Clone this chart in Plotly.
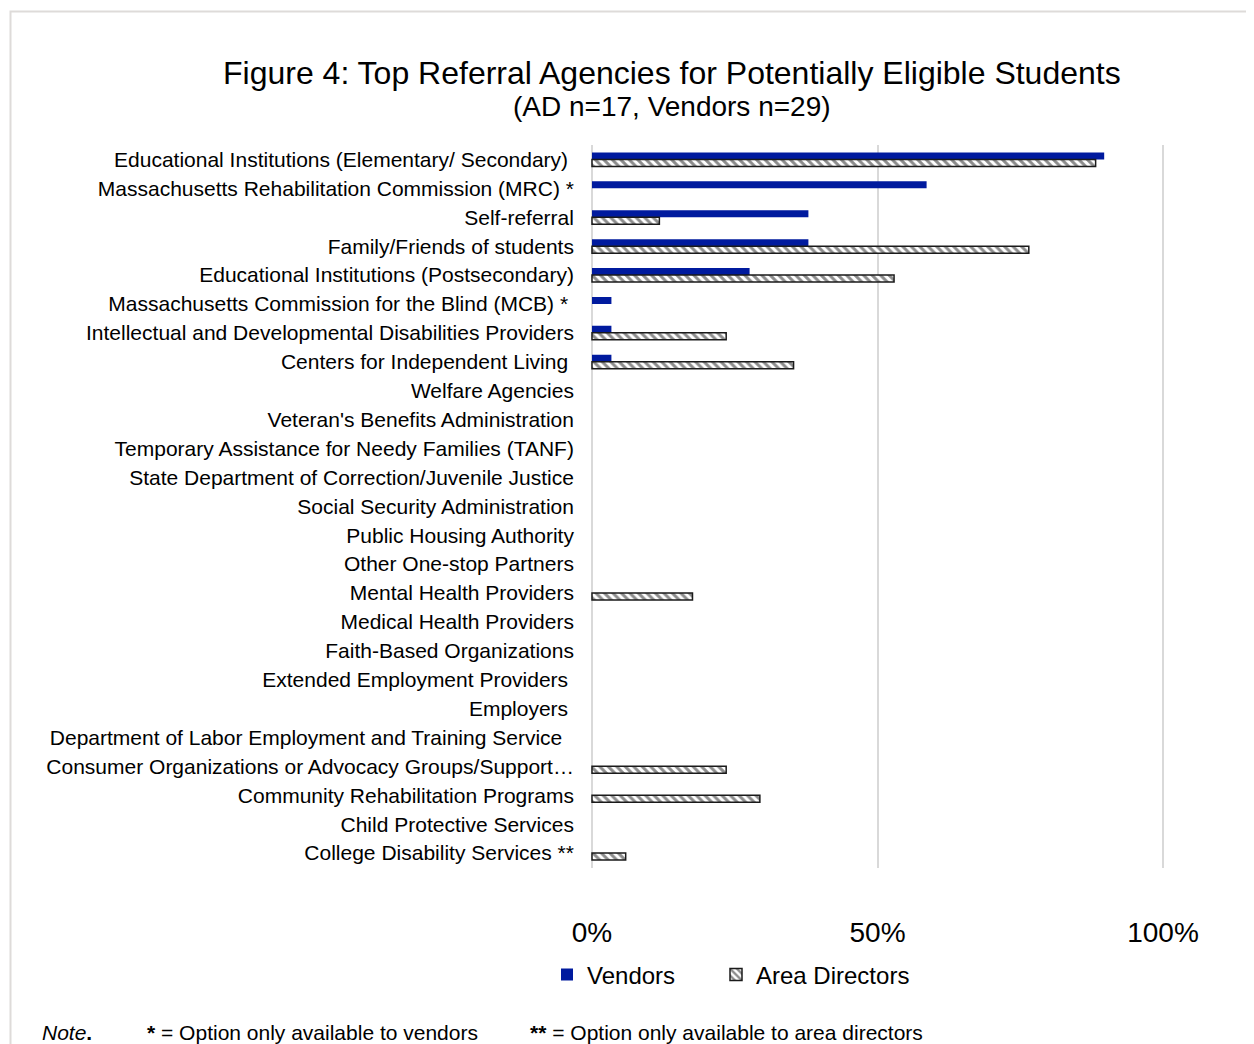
import plotly.graph_objects as go

W, H = 1254, 1044
PAGE_OFFSET = 8  # the page places the figure 8px in from the top-left corner

categories = [
    "Educational Institutions (Elementary/ Secondary)\u00a0",
    "Massachusetts Rehabilitation Commission (MRC) *",
    "Self-referral",
    "Family/Friends of students",
    "Educational Institutions (Postsecondary)",
    "Massachusetts Commission for the Blind (MCB) *\u00a0",
    "Intellectual and Developmental Disabilities Providers",
    "Centers for Independent Living\u00a0",
    "Welfare Agencies",
    "Veteran's Benefits Administration",
    "Temporary Assistance for Needy Families (TANF)",
    "State Department of Correction/Juvenile Justice",
    "Social Security Administration",
    "Public Housing Authority",
    "Other One-stop Partners",
    "Mental Health Providers",
    "Medical Health Providers",
    "Faith-Based Organizations",
    "Extended Employment Providers\u00a0",
    "Employers\u00a0",
    "Department of Labor Employment and Training Service\u00a0\u00a0",
    "Consumer Organizations or Advocacy Groups/Support\u2026",
    "Community Rehabilitation Programs",
    "Child Protective Services",
    "College Disability Services **",
]

vendors = [0.897, 0.586, 0.379, 0.379, 0.276, 0.034, 0.034, 0.034,
           0, 0, 0, 0, 0, 0, 0, 0, 0, 0, 0, 0, 0, 0, 0, 0, None]
area_directors = [0.882, None, 0.118, 0.765, 0.529, None, 0.235, 0.353,
                  0, 0, 0, 0, 0, 0, 0, 0.176, 0, 0, 0, 0, 0, 0.235, 0.294, 0, 0.059]

tick_vals = [0, 0.5, 1.0]
tick_text = ["0%", "50%", "100%"]

FONT = "Liberation Sans, Arial, sans-serif"
INK = "#1a1a1a"

# no outline on empty (zero / missing) bars
ad_line_widths = [1.5 if (v is not None and v > 0) else 0 for v in area_directors]

fig = go.Figure()
fig.add_trace(go.Bar(
    y=categories, x=vendors, orientation="h", name="Vendors",
    marker=dict(color="#001A9E", line=dict(width=0)),
    legend="legend",
))
fig.add_trace(go.Bar(
    y=categories, x=area_directors, orientation="h", name="Area Directors",
    marker=dict(color="white", line=dict(color=INK, width=ad_line_widths),
                pattern=dict(shape="\\", fgcolor=INK, bgcolor="white",
                             size=6, solidity=0.5)),
    legend="legend2",
))


def px_x(p):
    return (p - PAGE_OFFSET) / W


def px_y(p):
    return 1 - (p - PAGE_OFFSET) / H


legend_common = dict(orientation="h", xanchor="left", yanchor="middle",
                     y=px_y(975), font=dict(size=24, family=FONT, color="#000"),
                     bgcolor="rgba(0,0,0,0)")

# axis range padded slightly so the 0% and 100% gridlines are drawn
X_PAD = 0.005
PX_PER_UNIT = 1163 - 592
fig.update_layout(
    width=W, height=H,
    margin=dict(l=0, r=0, t=0, b=0, autoexpand=False),
    paper_bgcolor="white", plot_bgcolor="white",
    barmode="group", bargap=0.516, bargroupgap=0,
    font=dict(family=FONT, color="#000000"),
    showlegend=True,
    legend=dict(x=px_x(547), **legend_common),
    legend2=dict(x=px_x(716), **legend_common),
    xaxis=dict(domain=[px_x(592 - X_PAD * PX_PER_UNIT), px_x(1163 + X_PAD * PX_PER_UNIT)],
               range=[-X_PAD, 1 + X_PAD],
               automargin=False,
               tickvals=tick_vals, ticktext=tick_text,
               showgrid=True, gridcolor="#D9D9D9", gridwidth=1.5,
               zeroline=False, showline=False,
               ticks="outside", ticklen=40, tickcolor="rgba(0,0,0,0)",
               tickfont=dict(size=28, family=FONT, color="#000")),
    yaxis=dict(domain=[px_y(867.5), px_y(145)], autorange="reversed",
               automargin=False,
               showgrid=False, zeroline=False, showline=False,
               ticks="outside", ticklen=10, tickcolor="rgba(0,0,0,0)",
               tickfont=dict(size=21, family=FONT, color="#000")),
    annotations=[
        dict(text="Figure 4: Top Referral Agencies for Potentially Eligible Students",
             x=px_x(672), y=px_y(73), xref="paper", yref="paper",
             xanchor="center", yanchor="middle", showarrow=False,
             font=dict(size=32, family=FONT, color="#000")),
        dict(text="(AD n=17, Vendors n=29)",
             x=px_x(672), y=px_y(106), xref="paper", yref="paper",
             xanchor="center", yanchor="middle", showarrow=False,
             font=dict(size=28, family=FONT, color="#000")),
        dict(text="<i>Note</i><b>.</b>",
             x=px_x(40), y=px_y(1032), xref="paper", yref="paper",
             xanchor="left", yanchor="middle", showarrow=False,
             font=dict(size=21, family=FONT, color="#000")),
        dict(text="<b>*</b> = Option only available to vendors",
             x=px_x(145), y=px_y(1032), xref="paper", yref="paper",
             xanchor="left", yanchor="middle", showarrow=False,
             font=dict(size=21, family=FONT, color="#000")),
        dict(text="<b>**</b> = Option only available to area directors",
             x=px_x(528), y=px_y(1032), xref="paper", yref="paper",
             xanchor="left", yanchor="middle", showarrow=False,
             font=dict(size=21, family=FONT, color="#000")),
    ],
    shapes=[
        dict(type="rect", xref="paper", yref="paper",
             x0=px_x(10.5), x1=1.02, y0=-0.02, y1=px_y(11.5),
             line=dict(color="#DEDBD9", width=2), fillcolor="rgba(0,0,0,0)",
             layer="below"),
    ],
)

fig.write_html("out.html")
